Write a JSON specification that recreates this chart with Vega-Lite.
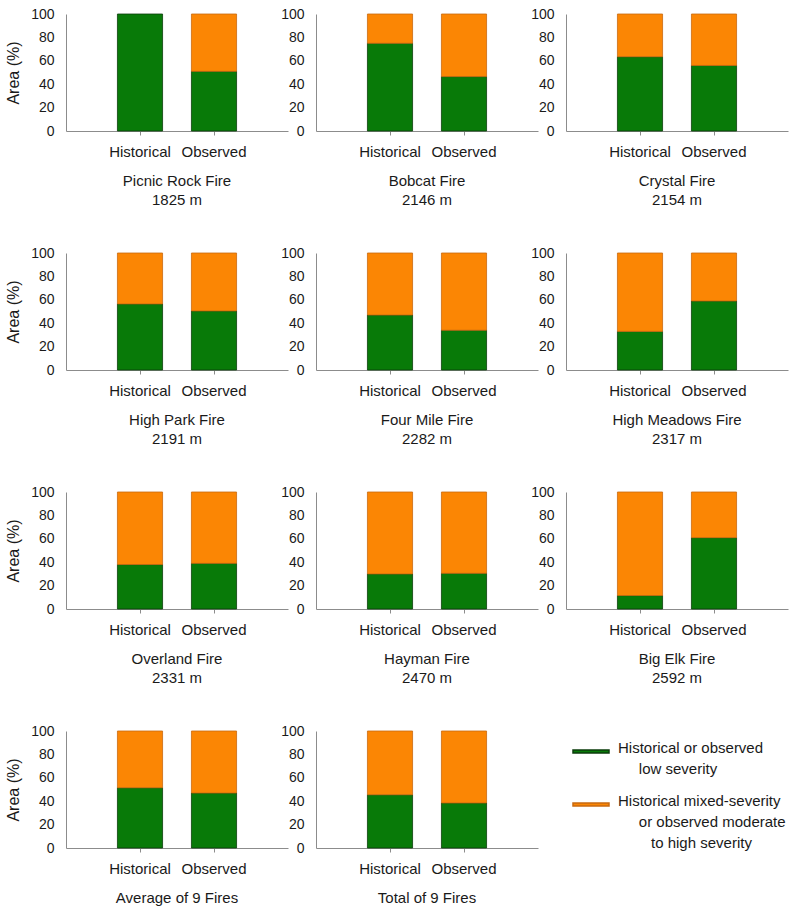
{
  "$schema": "https://vega.github.io/schema/vega-lite/v6.json",
  "background": "white",
  "padding": {"left": 5, "top": 7, "right": 5, "bottom": 5},
  "bounds": "flush",
  "columns": 3,
  "spacing": {"row": 122, "column": 28},
  "datasets": {
    "fires": [
      {"fire": "Picnic Rock", "period": "Historical", "severity": "low", "pct": 100},
      {"fire": "Picnic Rock", "period": "Observed", "severity": "low", "pct": 51},
      {"fire": "Picnic Rock", "period": "Observed", "severity": "mixed", "pct": 49},
      {"fire": "Bobcat", "period": "Historical", "severity": "low", "pct": 75},
      {"fire": "Bobcat", "period": "Historical", "severity": "mixed", "pct": 25},
      {"fire": "Bobcat", "period": "Observed", "severity": "low", "pct": 46.5},
      {"fire": "Bobcat", "period": "Observed", "severity": "mixed", "pct": 53.5},
      {"fire": "Crystal", "period": "Historical", "severity": "low", "pct": 63.5},
      {"fire": "Crystal", "period": "Historical", "severity": "mixed", "pct": 36.5},
      {"fire": "Crystal", "period": "Observed", "severity": "low", "pct": 56},
      {"fire": "Crystal", "period": "Observed", "severity": "mixed", "pct": 44},
      {"fire": "High Park", "period": "Historical", "severity": "low", "pct": 56.5},
      {"fire": "High Park", "period": "Historical", "severity": "mixed", "pct": 43.5},
      {"fire": "High Park", "period": "Observed", "severity": "low", "pct": 50.5},
      {"fire": "High Park", "period": "Observed", "severity": "mixed", "pct": 49.5},
      {"fire": "Four Mile", "period": "Historical", "severity": "low", "pct": 47},
      {"fire": "Four Mile", "period": "Historical", "severity": "mixed", "pct": 53},
      {"fire": "Four Mile", "period": "Observed", "severity": "low", "pct": 34},
      {"fire": "Four Mile", "period": "Observed", "severity": "mixed", "pct": 66},
      {"fire": "High Meadows", "period": "Historical", "severity": "low", "pct": 33},
      {"fire": "High Meadows", "period": "Historical", "severity": "mixed", "pct": 67},
      {"fire": "High Meadows", "period": "Observed", "severity": "low", "pct": 59},
      {"fire": "High Meadows", "period": "Observed", "severity": "mixed", "pct": 41},
      {"fire": "Overland", "period": "Historical", "severity": "low", "pct": 38},
      {"fire": "Overland", "period": "Historical", "severity": "mixed", "pct": 62},
      {"fire": "Overland", "period": "Observed", "severity": "low", "pct": 39},
      {"fire": "Overland", "period": "Observed", "severity": "mixed", "pct": 61},
      {"fire": "Hayman", "period": "Historical", "severity": "low", "pct": 30},
      {"fire": "Hayman", "period": "Historical", "severity": "mixed", "pct": 70},
      {"fire": "Hayman", "period": "Observed", "severity": "low", "pct": 30.5},
      {"fire": "Hayman", "period": "Observed", "severity": "mixed", "pct": 69.5},
      {"fire": "Big Elk", "period": "Historical", "severity": "low", "pct": 11.5},
      {"fire": "Big Elk", "period": "Historical", "severity": "mixed", "pct": 88.5},
      {"fire": "Big Elk", "period": "Observed", "severity": "low", "pct": 61},
      {"fire": "Big Elk", "period": "Observed", "severity": "mixed", "pct": 39},
      {"fire": "Average", "period": "Historical", "severity": "low", "pct": 51.5},
      {"fire": "Average", "period": "Historical", "severity": "mixed", "pct": 48.5},
      {"fire": "Average", "period": "Observed", "severity": "low", "pct": 47},
      {"fire": "Average", "period": "Observed", "severity": "mixed", "pct": 53},
      {"fire": "Total", "period": "Historical", "severity": "low", "pct": 45.5},
      {"fire": "Total", "period": "Historical", "severity": "mixed", "pct": 54.5},
      {"fire": "Total", "period": "Observed", "severity": "low", "pct": 38.5},
      {"fire": "Total", "period": "Observed", "severity": "mixed", "pct": 61.5}
    ]
  },
  "concat": [
    {
      "width": 222, "height": 117,
      "data": {"name": "fires"},
      "transform": [{"filter": "datum.fire == 'Picnic Rock'"}],
      "title": {"text": ["Picnic Rock Fire", "1825 m"]},
      "mark": {"type": "bar", "strokeWidth": 0.8},
      "encoding": {
        "x": {"field": "period", "type": "nominal", "scale": {"paddingInner": 0.39, "paddingOuter": 0.695}},
        "y": {"field": "pct", "type": "quantitative", "stack": "zero", "scale": {"domain": [0, 100]}, "axis": {"title": "Area (%)", "values": [0, 20, 40, 60, 80, 100]}},
        "color": {"field": "severity", "type": "nominal", "scale": {"domain": ["low", "mixed"], "range": ["#087a08", "#fb8604"]},
          "legend": {"orient": "none", "legendX": 506, "legendY": 720, "title": null, "symbolType": "M-1,-0.16H1V0H-1Z", "symbolSize": 1296, "labelFontSize": 15, "labelLimit": 300, "labelOffset": 8, "labelBaseline": "alphabetic", "rowPadding": 10, "labelColor": "#1a1a1a",
            "labelExpr": "datum.value == 'low' ? ['Historical or observed', '\u200c\u00a0\u200c\u00a0\u200c\u00a0\u200c\u00a0\u200c\u00a0\u200clow severity'] : ['Historical mixed-severity', '\u200c\u00a0\u200c\u00a0\u200c\u00a0\u200c\u00a0\u200c\u00a0\u200cor observed moderate', '\u2800\u2800\u2800to high severity']"}},
        "stroke": {"field": "severity", "type": "nominal", "scale": {"domain": ["low", "mixed"], "range": ["#0b3d0b", "#c86a10"]}, "legend": null},
        "order": {"field": "severity", "type": "nominal", "sort": "ascending"}
      }
    },
    {
      "width": 222, "height": 117,
      "data": {"name": "fires"},
      "transform": [{"filter": "datum.fire == 'Bobcat'"}],
      "title": {"text": ["Bobcat Fire", "2146 m"]},
      "mark": {"type": "bar", "strokeWidth": 0.8},
      "encoding": {
        "x": {"field": "period", "type": "nominal", "scale": {"paddingInner": 0.39, "paddingOuter": 0.695}},
        "y": {"field": "pct", "type": "quantitative", "stack": "zero", "scale": {"domain": [0, 100]}, "axis": {"title": null, "values": [0, 20, 40, 60, 80, 100]}},
        "color": {"field": "severity", "type": "nominal"},
        "stroke": {"field": "severity", "type": "nominal", "legend": null},
        "order": {"field": "severity", "type": "nominal", "sort": "ascending"}
      }
    },
    {
      "width": 222, "height": 117,
      "data": {"name": "fires"},
      "transform": [{"filter": "datum.fire == 'Crystal'"}],
      "title": {"text": ["Crystal Fire", "2154 m"]},
      "mark": {"type": "bar", "strokeWidth": 0.8},
      "encoding": {
        "x": {"field": "period", "type": "nominal", "scale": {"paddingInner": 0.39, "paddingOuter": 0.695}},
        "y": {"field": "pct", "type": "quantitative", "stack": "zero", "scale": {"domain": [0, 100]}, "axis": {"title": null, "values": [0, 20, 40, 60, 80, 100]}},
        "color": {"field": "severity", "type": "nominal"},
        "stroke": {"field": "severity", "type": "nominal", "legend": null},
        "order": {"field": "severity", "type": "nominal", "sort": "ascending"}
      }
    },
    {
      "width": 222, "height": 117,
      "data": {"name": "fires"},
      "transform": [{"filter": "datum.fire == 'High Park'"}],
      "title": {"text": ["High Park Fire", "2191 m"]},
      "mark": {"type": "bar", "strokeWidth": 0.8},
      "encoding": {
        "x": {"field": "period", "type": "nominal", "scale": {"paddingInner": 0.39, "paddingOuter": 0.695}},
        "y": {"field": "pct", "type": "quantitative", "stack": "zero", "scale": {"domain": [0, 100]}, "axis": {"title": "Area (%)", "values": [0, 20, 40, 60, 80, 100]}},
        "color": {"field": "severity", "type": "nominal"},
        "stroke": {"field": "severity", "type": "nominal", "legend": null},
        "order": {"field": "severity", "type": "nominal", "sort": "ascending"}
      }
    },
    {
      "width": 222, "height": 117,
      "data": {"name": "fires"},
      "transform": [{"filter": "datum.fire == 'Four Mile'"}],
      "title": {"text": ["Four Mile Fire", "2282 m"]},
      "mark": {"type": "bar", "strokeWidth": 0.8},
      "encoding": {
        "x": {"field": "period", "type": "nominal", "scale": {"paddingInner": 0.39, "paddingOuter": 0.695}},
        "y": {"field": "pct", "type": "quantitative", "stack": "zero", "scale": {"domain": [0, 100]}, "axis": {"title": null, "values": [0, 20, 40, 60, 80, 100]}},
        "color": {"field": "severity", "type": "nominal"},
        "stroke": {"field": "severity", "type": "nominal", "legend": null},
        "order": {"field": "severity", "type": "nominal", "sort": "ascending"}
      }
    },
    {
      "width": 222, "height": 117,
      "data": {"name": "fires"},
      "transform": [{"filter": "datum.fire == 'High Meadows'"}],
      "title": {"text": ["High Meadows Fire", "2317 m"]},
      "mark": {"type": "bar", "strokeWidth": 0.8},
      "encoding": {
        "x": {"field": "period", "type": "nominal", "scale": {"paddingInner": 0.39, "paddingOuter": 0.695}},
        "y": {"field": "pct", "type": "quantitative", "stack": "zero", "scale": {"domain": [0, 100]}, "axis": {"title": null, "values": [0, 20, 40, 60, 80, 100]}},
        "color": {"field": "severity", "type": "nominal"},
        "stroke": {"field": "severity", "type": "nominal", "legend": null},
        "order": {"field": "severity", "type": "nominal", "sort": "ascending"}
      }
    },
    {
      "width": 222, "height": 117,
      "data": {"name": "fires"},
      "transform": [{"filter": "datum.fire == 'Overland'"}],
      "title": {"text": ["Overland Fire", "2331 m"]},
      "mark": {"type": "bar", "strokeWidth": 0.8},
      "encoding": {
        "x": {"field": "period", "type": "nominal", "scale": {"paddingInner": 0.39, "paddingOuter": 0.695}},
        "y": {"field": "pct", "type": "quantitative", "stack": "zero", "scale": {"domain": [0, 100]}, "axis": {"title": "Area (%)", "values": [0, 20, 40, 60, 80, 100]}},
        "color": {"field": "severity", "type": "nominal"},
        "stroke": {"field": "severity", "type": "nominal", "legend": null},
        "order": {"field": "severity", "type": "nominal", "sort": "ascending"}
      }
    },
    {
      "width": 222, "height": 117,
      "data": {"name": "fires"},
      "transform": [{"filter": "datum.fire == 'Hayman'"}],
      "title": {"text": ["Hayman Fire", "2470 m"]},
      "mark": {"type": "bar", "strokeWidth": 0.8},
      "encoding": {
        "x": {"field": "period", "type": "nominal", "scale": {"paddingInner": 0.39, "paddingOuter": 0.695}},
        "y": {"field": "pct", "type": "quantitative", "stack": "zero", "scale": {"domain": [0, 100]}, "axis": {"title": null, "values": [0, 20, 40, 60, 80, 100]}},
        "color": {"field": "severity", "type": "nominal"},
        "stroke": {"field": "severity", "type": "nominal", "legend": null},
        "order": {"field": "severity", "type": "nominal", "sort": "ascending"}
      }
    },
    {
      "width": 222, "height": 117,
      "data": {"name": "fires"},
      "transform": [{"filter": "datum.fire == 'Big Elk'"}],
      "title": {"text": ["Big Elk Fire", "2592 m"]},
      "mark": {"type": "bar", "strokeWidth": 0.8},
      "encoding": {
        "x": {"field": "period", "type": "nominal", "scale": {"paddingInner": 0.39, "paddingOuter": 0.695}},
        "y": {"field": "pct", "type": "quantitative", "stack": "zero", "scale": {"domain": [0, 100]}, "axis": {"title": null, "values": [0, 20, 40, 60, 80, 100]}},
        "color": {"field": "severity", "type": "nominal"},
        "stroke": {"field": "severity", "type": "nominal", "legend": null},
        "order": {"field": "severity", "type": "nominal", "sort": "ascending"}
      }
    },
    {
      "width": 222, "height": 117,
      "data": {"name": "fires"},
      "transform": [{"filter": "datum.fire == 'Average'"}],
      "title": {"text": "Average of 9 Fires"},
      "mark": {"type": "bar", "strokeWidth": 0.8},
      "encoding": {
        "x": {"field": "period", "type": "nominal", "scale": {"paddingInner": 0.39, "paddingOuter": 0.695}},
        "y": {"field": "pct", "type": "quantitative", "stack": "zero", "scale": {"domain": [0, 100]}, "axis": {"title": "Area (%)", "values": [0, 20, 40, 60, 80, 100]}},
        "color": {"field": "severity", "type": "nominal"},
        "stroke": {"field": "severity", "type": "nominal", "legend": null},
        "order": {"field": "severity", "type": "nominal", "sort": "ascending"}
      }
    },
    {
      "width": 222, "height": 117,
      "data": {"name": "fires"},
      "transform": [{"filter": "datum.fire == 'Total'"}],
      "title": {"text": "Total of 9 Fires"},
      "mark": {"type": "bar", "strokeWidth": 0.8},
      "encoding": {
        "x": {"field": "period", "type": "nominal", "scale": {"paddingInner": 0.39, "paddingOuter": 0.695}},
        "y": {"field": "pct", "type": "quantitative", "stack": "zero", "scale": {"domain": [0, 100]}, "axis": {"title": null, "values": [0, 20, 40, 60, 80, 100]}},
        "color": {"field": "severity", "type": "nominal"},
        "stroke": {"field": "severity", "type": "nominal", "legend": null},
        "order": {"field": "severity", "type": "nominal", "sort": "ascending"}
      }
    }
  ],
  "config": {
    "font": "Liberation Sans",
    "view": {"stroke": null},
    "axis": {"labelFont": "Liberation Sans", "labelFontSize": 15, "labelColor": "#1a1a1a", "titleFont": "Liberation Sans", "titleFontSize": 16, "titleFontWeight": "normal", "titleColor": "#1a1a1a", "grid": false, "domainColor": "#8c8c8c", "tickColor": "#8c8c8c"},
    "axisX": {"labelAngle": 0, "tickSize": 4, "labelPadding": 9, "title": null},
    "axisY": {"ticks": false, "labelPadding": 12, "labelFontSize": 14, "titlePadding": 9},
    "title": {"orient": "bottom", "font": "Liberation Sans", "fontSize": 15, "fontWeight": "normal", "lineHeight": 19, "offset": 15, "color": "#1a1a1a"},
    "legend": {"labelFont": "Liberation Sans"},
    "style": {"guide-label": {"lineHeight": 21}}
  }
}
